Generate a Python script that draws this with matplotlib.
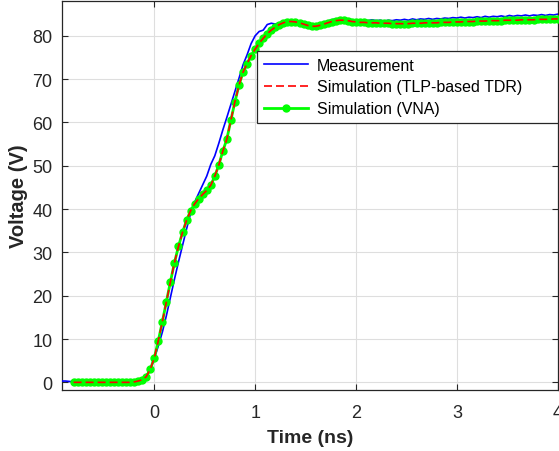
import numpy as np
import matplotlib.pyplot as plt

plt.rcParams['font.family'] = ['Liberation Sans', 'DejaVu Sans']

# measured waveform, sampled every 40 ps starting at -0.92 ns
t_meas_start, t_sim_start, dt = -0.92, -0.80, 0.04
v_meas = [
    0.3, 0.3, 0.2, 0.1,
    0.1, 0.1, 0.1, 0.1, 0.1, 0.1, 0.1, 0.1, 0.1, 0.1, 0.1, 0.1, 0.1,
    0.2, 0.4, 0.6, 0.9, 1.5, 3.0,
    5.5, 8.4, 11.6, 15.4, 19.6, 23.8, 27.8, 31.6, 35.4, 39.0, 41.6, 43.6, 45.6,
    47.6, 50.3, 52.3, 55.2, 58.3, 61.2, 64.2, 67.2, 70.2, 73.3, 75.6, 78.2,
    80.0, 81.0, 81.3, 82.6, 82.9, 82.7, 83.0, 83.3, 83.4, 83.3, 83.1, 83.0, 82.8,
    82.6, 82.5, 82.6, 82.8, 83.1, 83.4, 83.7, 83.9, 84.0, 83.9, 83.9, 83.7,
    83.6, 83.5, 83.7, 83.5, 83.7, 83.5, 83.6, 83.4, 83.6, 83.5, 83.7, 83.6, 83.8,
    83.6, 83.9, 83.7, 83.9, 83.8, 84.0, 83.8, 84.0, 83.9, 84.1, 84.0, 84.2,
    84.1, 84.3, 84.1, 84.3, 84.2, 84.4, 84.2, 84.5, 84.3, 84.5, 84.4, 84.6, 84.4,
    84.7, 84.5, 84.7, 84.6, 84.8, 84.6, 84.8, 84.7, 84.9, 84.7, 84.9, 84.8,
    85.0,
]

# simulated waveforms, sampled every 40 ps starting at -0.80 ns
v_tdr = [
    0.0, 0.0, 0.0, 0.0, 0.0, 0.0, 0.0, 0.0, 0.0, 0.0, 0.0, 0.0, 0.0, 0.0, 0.0,
    0.1, 0.3, 0.6, 1.3, 3.0,
    5.6, 9.6, 14.0, 18.6, 23.2, 27.6, 31.4, 34.6, 37.4, 39.6, 41.2, 42.4, 43.4,
    44.3, 45.5, 47.6, 50.2, 53.4, 56.2, 60.6, 64.8, 68.6, 71.6, 73.6, 75.4,
    76.9, 78.3, 79.4, 80.5, 81.3, 82.0, 82.6, 83.0, 83.3, 83.3, 83.2, 83.0, 82.7,
    82.4, 82.2, 82.2, 82.4, 82.7, 83.0, 83.3, 83.5, 83.6, 83.6, 83.5, 83.3,
    83.2, 83.1, 83.1, 83.0, 83.0, 83.0, 82.9, 82.9, 82.9, 82.8, 82.8, 82.8, 82.8,
    82.8, 82.9, 82.9, 82.9, 83.0, 83.0, 83.0, 83.0, 83.1, 83.1, 83.1, 83.2,
    83.2, 83.2, 83.3, 83.3, 83.3, 83.4, 83.4, 83.4, 83.5, 83.5, 83.5, 83.5, 83.6,
    83.6, 83.6, 83.6, 83.7, 83.7, 83.7, 83.7, 83.8, 83.8, 83.8, 83.8, 83.9,
    83.9,
]
v_vna = list(v_tdr)

t_meas = t_meas_start + dt * np.arange(len(v_meas))
t_sim = t_sim_start + dt * np.arange(len(v_tdr))

fig = plt.figure(figsize=(5.59, 4.52), dpi=100)
ax = fig.add_axes([0.1109, 0.1356, 0.8868, 0.8606])

dark = '#262626'
h_meas, = ax.plot(t_meas, v_meas, color='#0000FF', lw=1.2, zorder=3,
                  label='Measurement')
h_vna, = ax.plot(t_sim, v_vna, color='#00FF00', lw=2.0, marker='o',
                 markersize=5, zorder=4, label='Simulation (VNA)')
h_tdr, = ax.plot(t_sim, v_tdr, color='#FF0000', lw=1.2, ls=(0, (4.8, 2.4)),
                 zorder=5, label='Simulation (TLP-based TDR)')

ax.set_xlim(-0.915, 4.0)
ax.set_ylim(-1.7, 88.1)
ax.set_xticks([0, 1, 2, 3, 4])
ax.set_yticks(np.arange(0, 81, 10))
ax.grid(True, color='#dedede', lw=0.8)
ax.set_axisbelow(True)
ax.tick_params(direction='in', top=True, right=True, length=4, width=0.8,
               colors=dark, labelsize=13, pad=7)
ax.tick_params(axis='x', pad=10)
for s in ax.spines.values():
    s.set_color(dark)
    s.set_linewidth(0.9)

ax.set_xlabel('Time (ns)', fontsize=14, fontweight='bold', color=dark,
              labelpad=6)
ax.set_ylabel('Voltage (V)', fontsize=14.5, fontweight='bold', color=dark,
              labelpad=3)

leg = ax.legend(handles=[h_meas, h_tdr, h_vna], loc='upper left',
                bbox_to_anchor=(0.393, 0.0, 0.607, 0.871), mode='expand',
                borderaxespad=0, fontsize=11.5,
                fancybox=False, framealpha=1, edgecolor=dark,
                handlelength=2.8, handletextpad=0.55, labelspacing=0.43,
                borderpad=0.42, numpoints=1)
leg.get_frame().set_linewidth(0.9)
for txt in leg.get_texts():
    txt.set_color('black')

fig.savefig('out.png', dpi=100)
